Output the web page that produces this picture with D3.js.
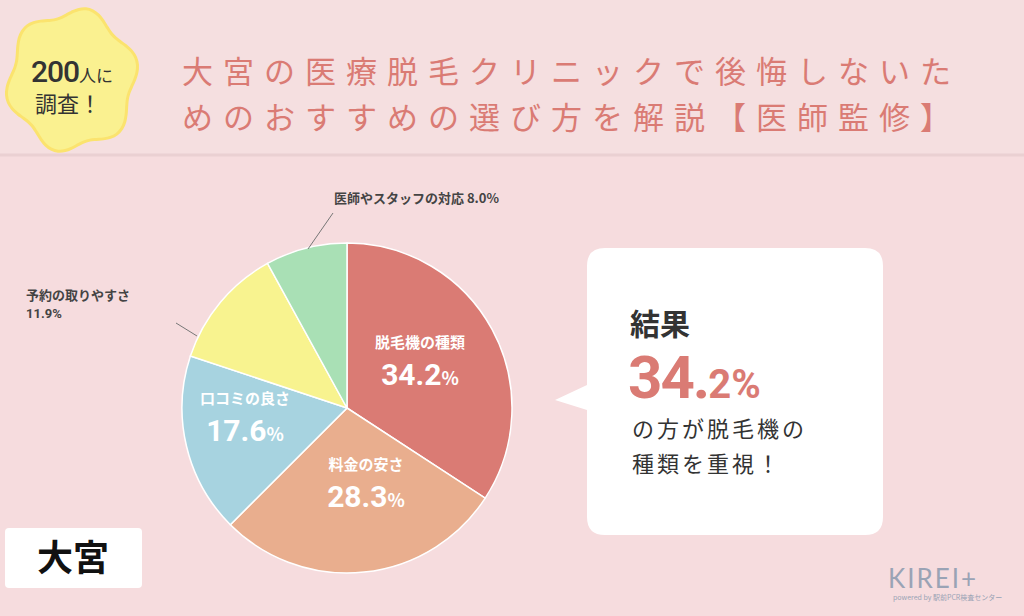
<!DOCTYPE html>
<html><head><meta charset="utf-8">
<script src="https://cdn.jsdelivr.net/npm/d3@7"></script>
<style>body{margin:0;background:#f5dfe0}svg{display:block;font-family:"Noto Sans CJK JP",sans-serif}</style>
</head><body><svg id="c" width="1024" height="616"></svg>
<script>
const categories = ["脱毛機の種類", "料金の安さ", "口コミの良さ", "予約の取りやすさ", "医師やスタッフの対応"];
const values = [34.2, 28.3, 17.6, 11.9, 8.0];
const colors = ["#da7b74", "#e9ae8e", "#a7d3e0", "#f8f38f", "#a9e0b5"];

const svg = d3.select("#c");
svg.append("rect").attr("width", 1024).attr("height", 616).attr("fill", "#f5dfe0");
svg.append("rect").attr("y", 155).attr("width", 1024).attr("height", 461).attr("fill", "#f6dcde");
svg.append("line").attr("x1", 0).attr("x2", 1024).attr("y1", 155).attr("y2", 155)
  .attr("stroke", "#ead0d2").attr("stroke-width", 3);

// badge
const badge = d3.range(0, 361, 6).map(a => {
  const r = 68 + 5 * Math.sin(a * Math.PI / 30);
  return [72 + r * Math.sin(a * Math.PI / 180) * 0.92, 80 - r * Math.cos(a * Math.PI / 180)];
});
svg.append("path").attr("d", d3.line().curve(d3.curveCardinalClosed)(badge))
  .attr("fill", "#faf190").attr("stroke", "#fbe36e").attr("stroke-width", 3);
svg.append("text").attr("x", 72).attr("y", 82).attr("text-anchor", "middle").attr("fill", "#333")
  .html('<tspan font-size="30" font-family="Roboto" font-weight="500" letter-spacing="-1">200</tspan><tspan font-size="17">人に</tspan>');
svg.append("text").attr("x", 68).attr("y", 112).attr("text-anchor", "middle").attr("fill", "#333")
  .attr("font-size", "22").text("調査！");

const title = ["大宮の医療脱毛クリニックで後悔しないた", "めのおすすめの選び方を解説【医師監修】"];
svg.selectAll(".t").data(title).join("text")
  .attr("x", 182).attr("y", (d, i) => 83 + i * 46)
  .attr("font-size", 31).attr("letter-spacing", 10).attr("fill", "#da7b74").text(d => d);

// pie
const cx = 347, cy = 408, R = 165;
const pie = d3.pie().sort(null);
const arcs = pie(values);
const arc = d3.arc().innerRadius(0).outerRadius(R);
const g = svg.append("g").attr("transform", `translate(${cx},${cy})`);
g.selectAll("path").data(arcs).join("path").attr("d", arc)
  .attr("fill", (d, i) => colors[i]).attr("stroke", "#fff").attr("stroke-width", 1.5);

const inner = [[73, -60], [19, 62], [-102, -4]];
inner.forEach((p, i) => {
  g.append("text").attr("x", p[0]).attr("y", p[1]).attr("text-anchor", "middle")
    .attr("fill", "#fff").attr("font-size", 15).attr("font-weight", "bold").text(categories[i]);
  g.append("text").attr("x", p[0]).attr("y", p[1] + 37).attr("text-anchor", "middle")
    .attr("fill", "#fff").attr("font-weight", "bold")
    .html(`<tspan font-size="30" font-family="Roboto">${values[i].toFixed(1)}</tspan><tspan font-size="18">%</tspan>`);
});

// outer labels
svg.append("polyline").attr("points", "176,323 197,336").attr("stroke", "#777").attr("fill", "none");
svg.append("text").attr("x", 26).attr("y", 300).attr("font-size", 13).attr("font-weight", "bold").attr("fill", "#444").text(categories[3]);
svg.append("text").attr("x", 26).attr("y", 318).attr("font-size", 13).attr("font-weight", "bold").attr("fill", "#444").attr("font-family", "Roboto").text(values[3].toFixed(1) + "%");
svg.append("polyline").attr("points", "333,213 308,249").attr("stroke", "#777").attr("fill", "none");
svg.append("text").attr("x", 334).attr("y", 203).attr("font-size", 13).attr("font-weight", "bold").attr("fill", "#444").text(categories[4] + " " + values[4].toFixed(1) + "%");

// callout
svg.append("path")
  .attr("d", "M605,248 H865 Q883,248 883,266 V517 Q883,535 865,535 H605 Q587,535 587,517 V410 L555,400 L587,385 V266 Q587,248 605,248 Z")
  .attr("fill", "#fff");
svg.append("text").attr("x", 630).attr("y", 335).attr("font-size", 30).attr("fill", "#333").attr("font-weight", "bold").text("結果");
svg.append("text").attr("x", 628).attr("y", 398).attr("fill", "#da7b74").attr("font-weight", "bold")
  .html(`<tspan font-size="60" font-family="Roboto" letter-spacing="-2">${values[0].toFixed(1).split(".")[0]}.</tspan><tspan font-size="40" font-family="Roboto">${values[0].toFixed(1).split(".")[1]}%</tspan>`);
svg.append("text").attr("x", 632).attr("y", 437).attr("font-size", 22).attr("letter-spacing", 3).attr("fill", "#333").text("の方が脱毛機の");
svg.append("text").attr("x", 632).attr("y", 472).attr("font-size", 22).attr("letter-spacing", 3).attr("fill", "#333").text("種類を重視！");

// place tag
svg.append("rect").attr("x", 5).attr("y", 528).attr("width", 137).attr("height", 60).attr("rx", 4).attr("fill", "#fff");
svg.append("text").attr("x", 73).attr("y", 571).attr("text-anchor", "middle").attr("font-size", 36).attr("font-weight", "bold").attr("fill", "#111").text("大宮");

// logo
svg.append("text").attr("x", 888).attr("y", 588).attr("font-size", 26).attr("letter-spacing", 2).attr("fill", "#9aa3b5").attr("font-family", "Lato").text("KIREI+");
svg.append("text").attr("x", 893).attr("y", 600).attr("font-size", 7).attr("fill", "#9aa3b5").text("powered by 駅前PCR検査センター");
</script></body></html>
